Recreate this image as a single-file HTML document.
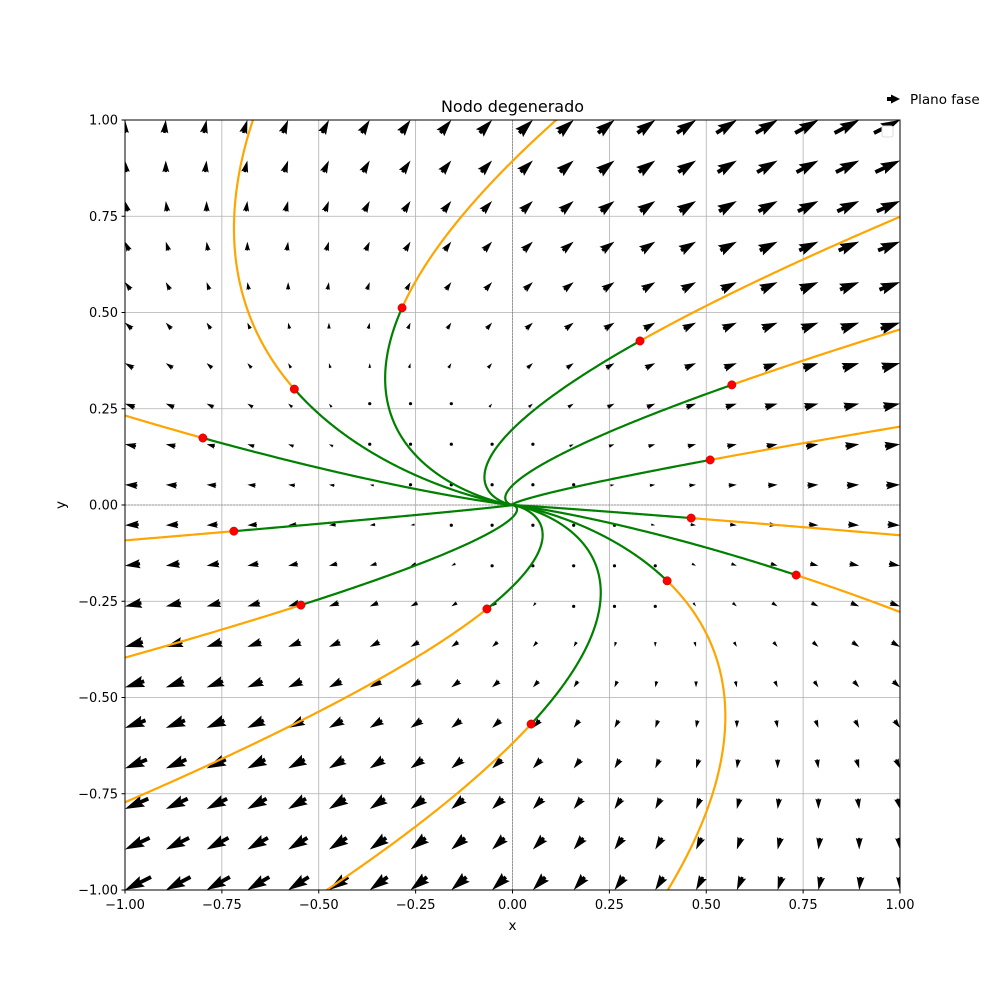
<!DOCTYPE html>
<html><head><meta charset="utf-8"><style>
body{margin:0;background:#fff}
svg text{font-family:"DejaVu Sans","Liberation Sans",sans-serif;fill:#000}
</style></head><body>
<svg id="chart" width="1000" height="1000" xmlns="http://www.w3.org/2000/svg">
<defs><clipPath id="clip"><rect x="125" y="120" width="775" height="770"/></clipPath></defs>
<rect width="1000" height="1000" fill="#fff"/>
<g id="grid"></g>
<g id="quiver" clip-path="url(#clip)"></g>
<g id="traj" clip-path="url(#clip)"></g>
<rect x="125" y="120" width="775" height="770" fill="none" stroke="#000" stroke-width="1"/>
<g id="ticks"></g>
<text x="512.5" y="112" font-size="16" text-anchor="middle">Nodo degenerado</text>
<text x="512.5" y="930" font-size="13.5" text-anchor="middle">x</text>
<text x="65" y="505" font-size="13.5" text-anchor="middle" transform="rotate(-90 65 505)">y</text>
<g>
<polygon points="887,97 887,101 891,101 891,103.5 900,99 891,94.5 891,97" fill="#000"/>
<text x="910" y="104" font-size="13.5">Plano fase</text>
</g>
<rect x="882" y="126" width="11" height="11" rx="2" fill="#fff" stroke="#ddd"/>
</svg>
<script>
const A = [[1,1],[0,1]];
const startX = [-0.285,-0.563,-0.799,-0.719,-0.546,-0.066,0.048,0.399,0.461,0.732,0.510,0.566,0.329];
const startY = [0.512,0.301,0.174,-0.068,-0.26,-0.27,-0.569,-0.197,-0.034,-0.182,0.117,0.312,0.426];
const tickVals = [-1,-0.75,-0.5,-0.25,0,0.25,0.5,0.75,1];
const tickLabels = ["−1.00","−0.75","−0.50","−0.25","0.00","0.25","0.50","0.75","1.00"];
const NS="http://www.w3.org/2000/svg";
const X=v=>512.5+v*387.5, Y=v=>505-v*385;
function mk(t,at,p){const e=document.createElementNS(NS,t);for(const k in at)e.setAttribute(k,at[k]);p.appendChild(e);return e;}
const grid=document.getElementById('grid'), ticks=document.getElementById('ticks');
tickVals.forEach((v,i)=>{
  let g=mk('line',{x1:X(v),x2:X(v),y1:120,y2:890,stroke:'#b0b0b0','stroke-width':0.8},grid);
  
  
  g=mk('line',{x1:125,x2:900,y1:Y(v),y2:Y(v),stroke:'#b0b0b0','stroke-width':0.8},grid);
  
  
  mk('line',{x1:X(v),x2:X(v),y1:890,y2:893.5,stroke:'#000'},ticks);
  mk('line',{x1:121.5,x2:125,y1:Y(v),y2:Y(v),stroke:'#000'},ticks);
  let t=mk('text',{x:X(v),y:909,'font-size':13,'text-anchor':'middle'},ticks);t.textContent=tickLabels[i];
  
  
  t=mk('text',{x:118,y:Y(v)+4.5,'font-size':13,'text-anchor':'end'},ticks);t.textContent=tickLabels[i];
  
  
});
mk('line',{x1:X(0),x2:X(0),y1:120,y2:890,stroke:'#888','stroke-width':0.8,'stroke-dasharray':'2,1'},grid);
mk('line',{x1:125,x2:900,y1:Y(0),y2:Y(0),stroke:'#888','stroke-width':0.8,'stroke-dasharray':'2,1'},grid);
// quiver
const q=document.getElementById('quiver');
const w=3.875, s=13;
for(let i=0;i<20;i++)for(let j=0;j<20;j++){
  const x=-1+2*i/19, y=-1+2*j/19;
  const u=A[0][0]*x+A[0][1]*y, v=A[1][0]*x+A[1][1]*y;
  const px=X(x), py=Y(y);
  const L=Math.hypot(u,v)*s;
  let el;
  if(L<w){el=mk('circle',{cx:px,cy:py,r:1.6,fill:'#000'},q);}
  else{
    const k=L<5*w?L/(5*w):1, ww=w*k;
    const pts=[[-L,-0.5*ww],[-4.5*ww,-0.5*ww],[-5*ww,-1.5*ww],[0,0],[-5*ww,1.5*ww],[-4.5*ww,0.5*ww],[-L,0.5*ww]];
    const ang=Math.atan2(-v,u)*180/Math.PI;
    el=mk('polygon',{points:pts.map(p=>p.join(',')).join(' '),fill:'#000',transform:`translate(${px},${py}) rotate(${ang})`},q);
  }
  
  
}
// trajectories
const tr=document.getElementById('traj');
function sol(x0,y0,t){const e=Math.exp(t);return [(x0+y0*t)*e,y0*e];}
startX.forEach((x0,i)=>{
  const y0=startY[i];
  let back=[],fwd=[];
  for(let t=-14;t<=0;t+=0.01){const p=sol(x0,y0,t);back.push(X(p[0]).toFixed(2)+','+Y(p[1]).toFixed(2));}
  for(let t=0;t<=3;t+=0.005){const p=sol(x0,y0,t);fwd.push(X(p[0]).toFixed(2)+','+Y(p[1]).toFixed(2));if(Math.abs(p[0])>1.3||Math.abs(p[1])>1.3)break;}
  let e=mk('polyline',{points:fwd.join(' '),fill:'none',stroke:'#ffa500','stroke-width':2.2},tr);
  
  
  e=mk('polyline',{points:back.join(' '),fill:'none',stroke:'#008000','stroke-width':2.2},tr);
  
  
});
startX.forEach((x0,i)=>{
  const e=mk('circle',{cx:X(x0),cy:Y(startY[i]),r:4.2,fill:'#ff0000',stroke:'#b00000','stroke-width':0.5},tr);
  
  
});
</script>
</body></html>
